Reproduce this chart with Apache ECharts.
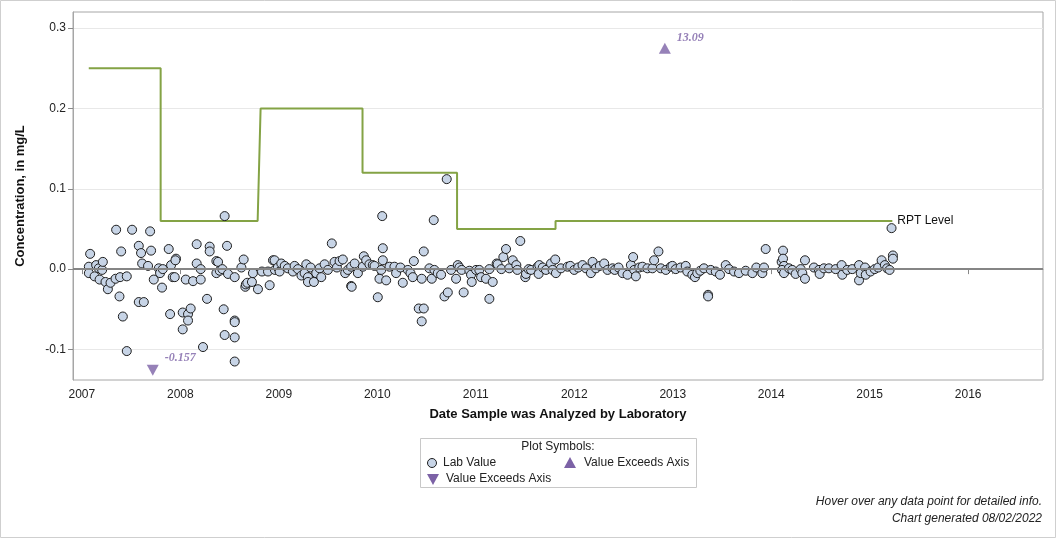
<!DOCTYPE html>
<html><head><meta charset="utf-8">
<script src="https://cdn.jsdelivr.net/npm/echarts@6/dist/echarts.min.js"></script>
<style>html,body{margin:0;padding:0;background:#fff}#c{width:1056px;height:538px}</style>
</head><body><div id="c"></div>
<script>
// Lab values: [decimal year of analysis, concentration mg/L]
const labValues2007 = [[2007.071,0.003],[2007.071,-0.005],[2007.084,0.019],[2007.129,-0.009],[2007.145,0.005],[2007.172,0.001],[2007.180,-0.013],[2007.206,-0.001],[2007.213,0.009],[2007.240,-0.016],[2007.264,-0.025],[2007.291,-0.017],[2007.342,-0.012],[2007.348,0.049],[2007.382,-0.034],[2007.388,-0.010],[2007.399,0.022],[2007.416,-0.059],[2007.456,-0.009],[2007.456,-0.102],[2007.510,0.049],[2007.578,0.029],[2007.578,-0.041],[2007.601,0.020],[2007.612,0.007],[2007.629,-0.041],[2007.672,0.004],[2007.693,0.047],[2007.703,0.023],[2007.730,-0.013],[2007.781,0.001],[2007.794,-0.005],[2007.814,-0.023],[2007.822,0.000],[2007.882,0.025],[2007.896,-0.056],[2007.906,0.005],[2007.923,-0.010],[2007.943,-0.010],[2007.956,0.013],[2007.950,0.011]];
const labValues2008 = [[2008.024,-0.054],[2008.024,-0.075],[2008.055,-0.013],[2008.078,-0.056],[2008.078,-0.064],[2008.105,-0.049],[2008.129,-0.015],[2008.166,0.031],[2008.166,0.007],[2008.207,0.000],[2008.207,-0.013],[2008.230,-0.097],[2008.271,-0.037],[2008.298,0.028],[2008.298,0.022],[2008.366,0.010],[2008.383,0.009],[2008.366,-0.005],[2008.400,-0.002],[2008.427,0.000],[2008.440,-0.050],[2008.450,0.066],[2008.450,-0.082],[2008.474,0.029],[2008.484,-0.006],[2008.552,-0.010],[2008.552,-0.064],[2008.552,-0.066],[2008.552,-0.085],[2008.552,-0.115],[2008.620,0.002],[2008.643,0.012],[2008.660,-0.022],[2008.665,-0.019],[2008.680,-0.017],[2008.727,-0.016],[2008.737,-0.005],[2008.788,-0.025],[2008.829,-0.003],[2008.890,-0.003],[2008.907,-0.020],[2008.941,0.011],[2008.957,0.011],[2008.960,-0.001],[2008.990,0.002]];
const labValues2009 = [[2009.008,-0.003],[2009.025,0.007],[2009.060,0.004],[2009.092,0.001],[2009.143,-0.003],[2009.160,0.004],[2009.194,0.000],[2009.230,-0.008],[2009.262,-0.005],[2009.279,0.006],[2009.296,-0.010],[2009.296,-0.016],[2009.323,0.002],[2009.356,-0.016],[2009.380,-0.005],[2009.414,0.001],[2009.431,-0.010],[2009.465,0.006],[2009.498,-0.001],[2009.538,0.032],[2009.566,0.009],[2009.590,0.002],[2009.617,0.010],[2009.650,0.012],[2009.674,-0.005],[2009.701,-0.001],[2009.735,0.003],[2009.735,-0.021],[2009.740,-0.022],[2009.770,0.007],[2009.803,-0.005],[2009.853,0.003],[2009.863,0.016],[2009.887,0.011],[2009.920,0.006],[2009.954,0.005],[2009.972,0.004]];
const labValues2010 = [[2010.005,-0.035],[2010.022,-0.012],[2010.040,-0.001],[2010.050,0.066],[2010.056,0.026],[2010.056,0.011],[2010.090,-0.014],[2010.124,0.003],[2010.174,0.003],[2010.191,-0.005],[2010.235,0.002],[2010.259,-0.017],[2010.310,-0.001],[2010.337,-0.005],[2010.360,-0.010],[2010.371,0.010],[2010.421,-0.049],[2010.451,-0.012],[2010.451,-0.065],[2010.472,0.022],[2010.472,-0.049],[2010.529,0.001],[2010.553,-0.012],[2010.573,0.061],[2010.580,-0.001],[2010.614,-0.005],[2010.648,-0.007],[2010.682,-0.034],[2010.705,0.112],[2010.716,-0.029],[2010.749,-0.001],[2010.800,-0.012],[2010.817,0.005],[2010.834,0.002],[2010.857,-0.001],[2010.877,-0.029],[2010.935,-0.002],[2010.952,-0.007],[2010.959,-0.016],[2011.003,-0.001]];
const labValues2011 = [[2011.036,-0.001],[2011.054,-0.010],[2011.104,-0.012],[2011.138,-0.037],[2011.138,0.000],[2011.172,-0.016],[2011.212,0.007],[2011.222,0.006],[2011.260,0.000],[2011.280,0.015],[2011.307,0.025],[2011.340,0.001],[2011.375,0.011],[2011.412,0.005],[2011.422,-0.001],[2011.452,0.035],[2011.503,-0.010],[2011.510,-0.006],[2011.537,0.000],[2011.561,-0.001],[2011.628,0.003],[2011.645,0.005],[2011.638,-0.006],[2011.680,0.002],[2011.713,-0.001],[2011.764,0.007],[2011.780,-0.001],[2011.807,0.012],[2011.814,-0.005],[2011.865,0.001],[2011.932,0.003],[2011.960,0.004]];
const labValues2012 = [[2012.000,-0.001],[2012.040,0.002],[2012.084,0.005],[2012.119,0.001],[2012.169,-0.005],[2012.186,0.009],[2012.220,0.001],[2012.260,0.004],[2012.304,0.007],[2012.338,-0.001],[2012.389,0.001],[2012.411,-0.001],[2012.450,0.002],[2012.491,-0.005],[2012.541,-0.007],[2012.575,0.005],[2012.598,0.015],[2012.609,-0.001],[2012.626,-0.009],[2012.660,0.002],[2012.693,0.003],[2012.743,0.001],[2012.794,0.001],[2012.811,0.011],[2012.855,0.022],[2012.879,0.001],[2012.930,-0.001],[2012.980,0.003],[2012.997,0.004]];
const labValues2013 = [[2013.031,0.000],[2013.080,0.002],[2013.132,0.004],[2013.148,-0.003],[2013.199,-0.007],[2013.226,-0.010],[2013.249,-0.005],[2013.280,-0.002],[2013.317,0.001],[2013.359,-0.032],[2013.359,-0.034],[2013.386,-0.001],[2013.437,-0.003],[2013.480,-0.007],[2013.538,0.005],[2013.572,0.000],[2013.623,-0.003],[2013.673,-0.005],[2013.741,-0.002],[2013.809,-0.005],[2013.849,0.002],[2013.910,-0.005],[2013.927,0.002],[2013.944,0.025]];
const labValues2014 = [[2014.106,0.009],[2014.120,0.023],[2014.120,0.013],[2014.130,0.004],[2014.110,-0.001],[2014.130,-0.005],[2014.181,0.001],[2014.214,-0.001],[2014.248,-0.006],[2014.299,0.000],[2014.316,-0.005],[2014.343,0.011],[2014.343,-0.012],[2014.434,0.002],[2014.485,-0.001],[2014.492,-0.006],[2014.535,0.001],[2014.586,0.001],[2014.654,0.000],[2014.715,0.005],[2014.722,-0.007],[2014.772,-0.001],[2014.823,0.000],[2014.892,0.005],[2014.892,-0.014],[2014.909,-0.005],[2014.953,0.002],[2014.960,-0.007]];
const labValues2015 = [[2015.009,-0.003],[2015.051,0.000],[2015.086,0.002],[2015.121,0.011],[2015.154,0.005],[2015.177,0.001],[2015.202,-0.001],[2015.222,0.051],[2015.236,0.017],[2015.236,0.013]];

// RPT (reporting) level step line
const rptDates  = [2007.07, 2007.80, 2007.80, 2008.785, 2008.815, 2009.85, 2009.85, 2010.81, 2010.81, 2011.81, 2011.81, 2015.23];
const rptLevels = [0.25, 0.25, 0.06, 0.06, 0.20, 0.20, 0.12, 0.12, 0.05, 0.05, 0.06, 0.06];

// Values exceeding the axis range (actual values shown as labels)
const exceedHighDates = [2012.92];
const exceedHighValues = [13.09];
const exceedLowDates = [2007.72];
const exceedLowValues = [-0.157];
const exceedHighMarkerLevel = 0.275;   // where the marker sits at the top of the axis
const exceedLowMarkerLevel = -0.126;   // where the marker sits at the bottom of the axis

// Axis ticks
const xTickYears = [2007, 2008, 2009, 2010, 2011, 2012, 2013, 2014, 2015, 2016];
const yTickValues = [-0.1, 0.0, 0.1, 0.2, 0.3];

const labData = [].concat(labValues2007, labValues2008, labValues2009, labValues2010, labValues2011, labValues2012, labValues2013, labValues2014, labValues2015);
const rptData = rptDates.map((d, i) => [d, rptLevels[i]]);
const highData = exceedHighDates.map((d, i) => ({value: [d, exceedHighMarkerLevel], actual: exceedHighValues[i]}));
const lowData = exceedLowDates.map((d, i) => ({value: [d, exceedLowMarkerLevel], actual: exceedLowValues[i]}));

const FONT = '"Liberation Sans", Arial, sans-serif';
const PURPLE = '#7c62a6';
const FILL = '#c7d4e6';

const chart = echarts.init(document.getElementById('c'), null, {renderer: 'canvas'});
chart.setOption({
  animation: false,
  backgroundColor: '#fff',
  textStyle: {fontFamily: FONT},
  grid: {left: 73, right: 13, top: 12, bottom: 158, show: true, borderColor: '#a6a6a6', borderWidth: 1, containLabel: false},
  xAxis: {
    type: 'value', min: 2006.91, max: 2016.76, splitNumber: 10, minInterval: 1, maxInterval: 1,
    name: 'Date Sample was Analyzed by Laboratory', nameLocation: 'middle', nameGap: 28,
    nameTextStyle: {fontFamily: FONT, fontSize: 13, fontWeight: 'bold', color: '#111'},
    axisLine: {show: true, lineStyle: {color: '#a6a6a6'}},
    axisTick: {show: true, length: 5, lineStyle: {color: '#888'}, customValues: xTickYears},
    axisLabel: {customValues: xTickYears, formatter: v => String(Math.round(v)), margin: 9, fontFamily: FONT, fontSize: 12, color: '#222'},
    splitLine: {show: false}
  },
  yAxis: {
    type: 'value', min: -0.138, max: 0.32,
    name: 'Concentration, in mg/L', nameLocation: 'middle', nameGap: 46, nameRotate: 90,
    nameTextStyle: {fontFamily: FONT, fontSize: 13, fontWeight: 'bold', color: '#111'},
    axisLine: {show: true, lineStyle: {color: '#a6a6a6'}},
    axisTick: {show: true, length: 5, lineStyle: {color: '#888'}, customValues: yTickValues},
    axisLabel: {customValues: yTickValues, formatter: v => v.toFixed(1), margin: 7, fontFamily: FONT, fontSize: 12, color: '#222'},
    splitLine: {show: true, lineStyle: {color: '#e8e8e8', width: 1}}
  },
  series: [
    {
      type: 'line', data: rptData, showSymbol: false, symbol: 'none', silent: true, z: 2,
      lineStyle: {color: '#84a345', width: 2},
      endLabel: {show: true, formatter: 'RPT Level', fontFamily: FONT, fontSize: 12, color: '#111', distance: 5},
      markLine: {silent: true, symbol: 'none', label: {show: false}, lineStyle: {color: '#858585', width: 2, type: 'solid'}, data: [{yAxis: 0}]}
    },
    {
      type: 'scatter', data: labData, symbol: 'circle', symbolSize: 9, z: 3,
      itemStyle: {color: FILL, borderColor: '#1e1e1e', borderWidth: 1, opacity: 1}
    },
    {
      type: 'scatter', data: highData, symbol: 'triangle', symbolSize: [12, 11], z: 4,
      itemStyle: {color: PURPLE},
      label: {show: true, position: 'right', distance: 6, offset: [0, -10], formatter: p => p.data.actual.toFixed(2),
        fontFamily: '"Liberation Serif", "Times New Roman", serif', fontStyle: 'italic', fontWeight: 'bold', fontSize: 12, color: PURPLE}
    },
    {
      type: 'scatter', data: lowData, symbol: 'triangle', symbolRotate: 180, symbolSize: [12, 11], z: 4,
      itemStyle: {color: PURPLE},
      label: {show: true, position: 'right', distance: 6, offset: [0, -12], formatter: p => String(p.data.actual),
        fontFamily: '"Liberation Serif", "Times New Roman", serif', fontStyle: 'italic', fontWeight: 'bold', fontSize: 12, color: PURPLE}
    }
  ],
  graphic: [
    {type: 'rect', shape: {x: 0.5, y: 0.5, width: 1055, height: 537}, style: {fill: 'none', stroke: '#cfcfcf', lineWidth: 1}, silent: true, z: -1},
    {type: 'rect', shape: {x: 420.5, y: 438.5, width: 276, height: 49}, style: {fill: '#fff', stroke: '#c8c8c8', lineWidth: 1}},
    {type: 'text', x: 558, y: 447, style: {text: 'Plot Symbols:', font: '12px ' + FONT, fill: '#222', textAlign: 'center', textVerticalAlign: 'middle'}},
    {type: 'circle', shape: {cx: 432, cy: 463, r: 4.5}, style: {fill: FILL, stroke: '#1e1e1e', lineWidth: 1}},
    {type: 'text', x: 443, y: 463, style: {text: 'Lab Value', font: '12px ' + FONT, fill: '#222', textAlign: 'left', textVerticalAlign: 'middle'}},
    {type: 'polygon', shape: {points: [[564, 468], [576, 468], [570, 457]]}, style: {fill: PURPLE}},
    {type: 'text', x: 584, y: 463, style: {text: 'Value Exceeds Axis', font: '12px ' + FONT, fill: '#222', textAlign: 'left', textVerticalAlign: 'middle'}},
    {type: 'polygon', shape: {points: [[427, 474], [439, 474], [433, 485]]}, style: {fill: PURPLE}},
    {type: 'text', x: 446, y: 479, style: {text: 'Value Exceeds Axis', font: '12px ' + FONT, fill: '#222', textAlign: 'left', textVerticalAlign: 'middle'}},
    {type: 'text', x: 1042, y: 502, style: {text: 'Hover over any data point for detailed info.', font: 'italic 12px ' + FONT, fill: '#222', textAlign: 'right', textVerticalAlign: 'middle'}},
    {type: 'text', x: 1042, y: 519, style: {text: 'Chart generated 08/02/2022', font: 'italic 12px ' + FONT, fill: '#222', textAlign: 'right', textVerticalAlign: 'middle'}}
  ]
});
</script>
</body></html>
